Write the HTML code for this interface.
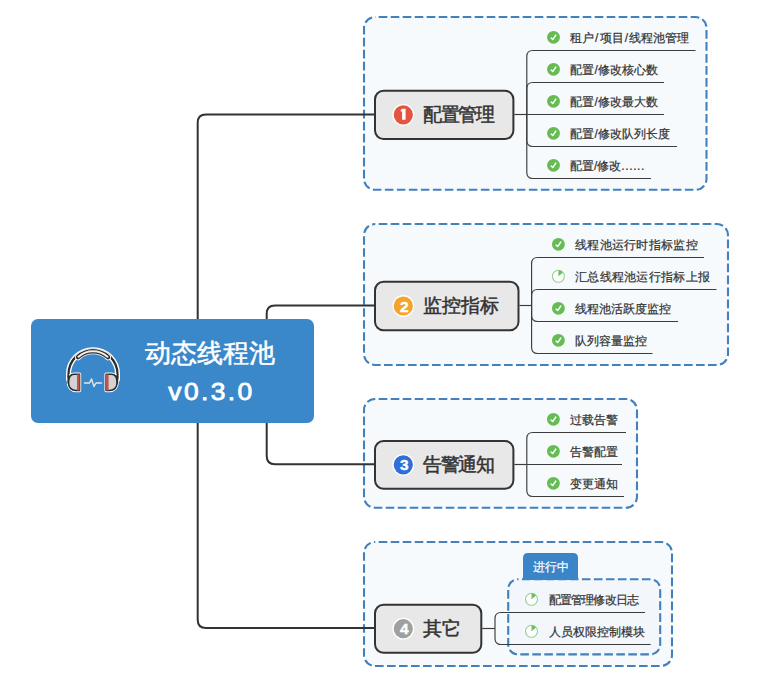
<!DOCTYPE html>
<html><head><meta charset="utf-8"><style>
html,body{margin:0;padding:0;background:#fff;width:780px;height:687px;overflow:hidden}
body{position:relative;font-family:"Liberation Sans",sans-serif}
svg{position:absolute;left:0;top:0}
.it{position:absolute;font-size:12px;line-height:20px;color:#333;white-space:nowrap;-webkit-text-stroke:0.22px #333}
.sl{margin:0 1.1px}
.sl1{margin:0 0.5px}
.dots{letter-spacing:0.6px}
.nd{position:absolute;font-size:19px;line-height:30px;color:#333;font-weight:normal;-webkit-text-stroke:0.5px #333;white-space:nowrap}
.num{position:absolute;width:20px;text-align:center;font-size:15.5px;line-height:21px;color:#fff;font-weight:bold;-webkit-text-stroke:0.4px #fff}
.ct{position:absolute;left:105px;width:209px;text-align:center;color:#fff;white-space:nowrap}
.lab{position:absolute;left:523px;top:553.5px;width:55px;text-align:center;color:#fff;font-size:12px;line-height:26px;-webkit-text-stroke:0.2px #fff}
</style></head><body>
<svg width="780" height="687" viewBox="0 0 780 687">
<rect x="364" y="17" width="342.5" height="172.8" rx="11" ry="11" fill="#f6fafd" stroke="#4281bc" stroke-width="2.1" stroke-dasharray="8.6 3.4" stroke-dashoffset="-3.7"/>
<rect x="364" y="224" width="364" height="141" rx="11" ry="11" fill="#f6fafd" stroke="#4281bc" stroke-width="2.1" stroke-dasharray="8.6 3.4" stroke-dashoffset="-3.7"/>
<rect x="364" y="399" width="273" height="108.69999999999999" rx="11" ry="11" fill="#f6fafd" stroke="#4281bc" stroke-width="2.1" stroke-dasharray="8.6 3.4" stroke-dashoffset="-3.7"/>
<rect x="364" y="542" width="308" height="124" rx="11" ry="11" fill="#f6fafd" stroke="#4281bc" stroke-width="2.1" stroke-dasharray="8.6 3.4" stroke-dashoffset="-3.7"/>
<path d="M374 114.6 H206 Q197.7 114.6 197.7 122.9 V619.7 Q197.7 628 206 628 H374" fill="none" stroke="#333" stroke-width="2"/>
<path d="M374 305.5 H275 Q266.7 305.5 266.7 313.8 V456 Q266.7 464.3 275 464.3 H374" fill="none" stroke="#333" stroke-width="2"/>
<rect x="508.2" y="579.2" width="152.00000000000006" height="75.19999999999993" rx="10" ry="10" fill="#f3f7fb" stroke="#4281bc" stroke-width="2.1" stroke-dasharray="8.6 3.4" stroke-dashoffset="-3.7"/>
<path d="M523 580 V558 Q523 553 528 553 H573 Q578 553 578 558 V580 Z" fill="#3a84c8"/>
<path d="M514.4 114.5 H526.8" fill="none" stroke="#3c3c3c" stroke-width="1.15"/>
<path d="M526.8 114.5 V56.5 Q526.8 50.5 532.8 50.5 H695.5" fill="none" stroke="#3c3c3c" stroke-width="1.15"/>
<circle cx="553.5" cy="37.3" r="6.4" fill="#66bb55"/><path d="M551.1 38.099999999999994 L552.8 39.599999999999994 L555.9 35.0" fill="none" stroke="#fff" stroke-width="1.4" stroke-linecap="round" stroke-linejoin="round"/>
<path d="M526.8 114.5 V88.5 Q526.8 82.5 532.8 82.5 H664" fill="none" stroke="#3c3c3c" stroke-width="1.15"/>
<circle cx="553.5" cy="69.3" r="6.4" fill="#66bb55"/><path d="M551.1 70.1 L552.8 71.6 L555.9 67.0" fill="none" stroke="#fff" stroke-width="1.4" stroke-linecap="round" stroke-linejoin="round"/>
<path d="M526.8 114.5 H664" fill="none" stroke="#3c3c3c" stroke-width="1.15"/>
<circle cx="553.5" cy="101.3" r="6.4" fill="#66bb55"/><path d="M551.1 102.1 L552.8 103.6 L555.9 99.0" fill="none" stroke="#fff" stroke-width="1.4" stroke-linecap="round" stroke-linejoin="round"/>
<path d="M526.8 114.5 V140.5 Q526.8 146.5 532.8 146.5 H677" fill="none" stroke="#3c3c3c" stroke-width="1.15"/>
<circle cx="553.5" cy="133.3" r="6.4" fill="#66bb55"/><path d="M551.1 134.10000000000002 L552.8 135.60000000000002 L555.9 131.0" fill="none" stroke="#fff" stroke-width="1.4" stroke-linecap="round" stroke-linejoin="round"/>
<path d="M526.8 114.5 V172.5 Q526.8 178.5 532.8 178.5 H651" fill="none" stroke="#3c3c3c" stroke-width="1.15"/>
<circle cx="553.5" cy="165.3" r="6.4" fill="#66bb55"/><path d="M551.1 166.10000000000002 L552.8 167.60000000000002 L555.9 163.0" fill="none" stroke="#fff" stroke-width="1.4" stroke-linecap="round" stroke-linejoin="round"/>
<path d="M519.5 305.5 H531.6" fill="none" stroke="#3c3c3c" stroke-width="1.15"/>
<path d="M531.6 305.5 V263.5 Q531.6 257.5 537.6 257.5 H704" fill="none" stroke="#3c3c3c" stroke-width="1.15"/>
<circle cx="558.4" cy="244.3" r="6.4" fill="#66bb55"/><path d="M556.0 245.10000000000002 L557.6999999999999 246.60000000000002 L560.8 242.0" fill="none" stroke="#fff" stroke-width="1.4" stroke-linecap="round" stroke-linejoin="round"/>
<path d="M531.6 305.5 V295.5 Q531.6 289.5 537.6 289.5 H716.5" fill="none" stroke="#3c3c3c" stroke-width="1.15"/>
<circle cx="558.4" cy="276.3" r="6" fill="#fff" stroke="#9bd092" stroke-width="1.1"/><path d="M558.4 276.3 V270.3 A6 6 0 0 1 563.00 272.44 Z" fill="#6cc05e"/>
<path d="M531.6 305.5 V315.5 Q531.6 321.5 537.6 321.5 H678" fill="none" stroke="#3c3c3c" stroke-width="1.15"/>
<circle cx="558.4" cy="308.3" r="6.4" fill="#66bb55"/><path d="M556.0 309.1 L557.6999999999999 310.6 L560.8 306.0" fill="none" stroke="#fff" stroke-width="1.4" stroke-linecap="round" stroke-linejoin="round"/>
<path d="M531.6 305.5 V347.5 Q531.6 353.5 537.6 353.5 H652.5" fill="none" stroke="#3c3c3c" stroke-width="1.15"/>
<circle cx="558.4" cy="340.3" r="6.4" fill="#66bb55"/><path d="M556.0 341.1 L557.6999999999999 342.6 L560.8 338.0" fill="none" stroke="#fff" stroke-width="1.4" stroke-linecap="round" stroke-linejoin="round"/>
<path d="M514.4 464.5 H526.8" fill="none" stroke="#3c3c3c" stroke-width="1.15"/>
<path d="M526.8 464.5 V438.5 Q526.8 432.5 532.8 432.5 H626" fill="none" stroke="#3c3c3c" stroke-width="1.15"/>
<circle cx="553.4" cy="419.3" r="6.4" fill="#66bb55"/><path d="M551.0 420.1 L552.6999999999999 421.6 L555.8 417.0" fill="none" stroke="#fff" stroke-width="1.4" stroke-linecap="round" stroke-linejoin="round"/>
<path d="M526.8 464.5 H622" fill="none" stroke="#3c3c3c" stroke-width="1.15"/>
<circle cx="553.4" cy="451.3" r="6.4" fill="#66bb55"/><path d="M551.0 452.1 L552.6999999999999 453.6 L555.8 449.0" fill="none" stroke="#fff" stroke-width="1.4" stroke-linecap="round" stroke-linejoin="round"/>
<path d="M526.8 464.5 V490.5 Q526.8 496.5 532.8 496.5 H624" fill="none" stroke="#3c3c3c" stroke-width="1.15"/>
<circle cx="553.4" cy="483.3" r="6.4" fill="#66bb55"/><path d="M551.0 484.1 L552.6999999999999 485.6 L555.8 481.0" fill="none" stroke="#fff" stroke-width="1.4" stroke-linecap="round" stroke-linejoin="round"/>
<path d="M482.3 628.5 H495" fill="none" stroke="#3c3c3c" stroke-width="1.15"/>
<path d="M495 628.5 V618.5 Q495 612.5 501 612.5 H645" fill="none" stroke="#3c3c3c" stroke-width="1.15"/>
<circle cx="531.5" cy="599.3" r="6" fill="#fff" stroke="#9bd092" stroke-width="1.1"/><path d="M531.5 599.3 V593.3 A6 6 0 0 1 536.10 595.44 Z" fill="#6cc05e"/>
<path d="M495 628.5 V638.5 Q495 644.5 501 644.5 H650.7" fill="none" stroke="#3c3c3c" stroke-width="1.15"/>
<circle cx="531.5" cy="631.3" r="6" fill="#fff" stroke="#9bd092" stroke-width="1.1"/><path d="M531.5 631.3 V625.3 A6 6 0 0 1 536.10 627.44 Z" fill="#6cc05e"/>
<rect x="375" y="90.7" width="138.39999999999998" height="48.3" rx="8.5" ry="8.5" fill="#e8e8e8" stroke="#333" stroke-width="2"/>
<circle cx="403.3" cy="114.85" r="10.9" fill="#fff"/><circle cx="403.3" cy="114.85" r="9.6" fill="#e2553f"/>
<path d="M402.1 119.85 V111.25 L400.8 111.85 V109.64999999999999 L402.6 108.85 H405.6 V119.85 Z" fill="#fff"/>
<rect x="375" y="281.7" width="143.5" height="48.60000000000002" rx="8.5" ry="8.5" fill="#e8e8e8" stroke="#333" stroke-width="2"/>
<circle cx="403.3" cy="306.0" r="10.9" fill="#fff"/><circle cx="403.3" cy="306.0" r="9.6" fill="#f2a52a"/>
<rect x="375" y="441" width="138.39999999999998" height="47.69999999999999" rx="8.5" ry="8.5" fill="#e8e8e8" stroke="#333" stroke-width="2"/>
<circle cx="403.3" cy="464.85" r="10.9" fill="#fff"/><circle cx="403.3" cy="464.85" r="9.6" fill="#316fd8"/>
<rect x="375" y="604.7" width="106.30000000000001" height="48.0" rx="8.5" ry="8.5" fill="#e8e8e8" stroke="#333" stroke-width="2"/>
<circle cx="403.3" cy="628.7" r="10.9" fill="#fff"/><circle cx="403.3" cy="628.7" r="9.6" fill="#a0a0a0"/>
<rect x="31" y="319" width="283" height="104" rx="7" ry="7" fill="#3a87c9"/>
<g stroke-linejoin="round" stroke-linecap="round" transform="translate(0,1.2)">
<path d="M68.5 378 V373 A24.5 24.5 0 0 1 117.5 373 V378" fill="none" stroke="#fff" stroke-width="5"/>
<path d="M68.5 378 V373 A24.5 24.5 0 0 1 117.5 373 V378" fill="none" stroke="#2b2b2b" stroke-width="2.2"/>
<path d="M78 356 A 22 22 0 0 1 108 356" fill="none" stroke="#fff" stroke-width="6"/>
<path d="M78 356 A 22 22 0 0 1 108 356" fill="none" stroke="#2b2b2b" stroke-width="4.4"/>
<path d="M78.5 355.6 A 21.5 21.5 0 0 1 107.5 355.6" fill="none" stroke="#f3eee6" stroke-width="2"/>
</g>
<g stroke-linejoin="round" stroke-linecap="round">
<path d="M79.5 374.3 H74 C70 374.3 68.5 378.5 68.5 382.8 C68.5 387.3 71.5 390.5 76 390.5 H79.5 Z" fill="#d3d3d3" stroke="#fff" stroke-width="3.4"/>
<path d="M106.1 374.3 H111.6 C115.6 374.3 117.1 378.5 117.1 382.8 C117.1 387.3 114.1 390.5 109.6 390.5 H106.1 Z" fill="#d3d3d3" stroke="#fff" stroke-width="3.4"/>
<path d="M68.5 383 V376" stroke="#2b2b2b" stroke-width="2" fill="none"/>
<path d="M117.1 383 V376" stroke="#2b2b2b" stroke-width="2" fill="none"/>
<path d="M79.5 374.3 H74 C70 374.3 68.5 378.5 68.5 382.8 C68.5 387.3 71.5 390.5 76 390.5 H79.5 Z" fill="#d3d3d3" stroke="#2b2b2b" stroke-width="1.6"/>
<rect x="77" y="374.3" width="2.6" height="16.2" fill="#bf5550"/>
<path d="M106.1 374.3 H111.6 C115.6 374.3 117.1 378.5 117.1 382.8 C117.1 387.3 114.1 390.5 109.6 390.5 H106.1 Z" fill="#d3d3d3" stroke="#2b2b2b" stroke-width="1.6"/>
<rect x="106" y="374.3" width="2.6" height="16.2" fill="#bf5550"/>
<path d="M84.5 383 H89.5 L91.5 379 L94 386.5 L96 383 H101.5" fill="none" stroke="#e8e8e8" stroke-width="1.4"/>
</g>
</svg>
<div class="it" style="left:570px;top:28.299999999999997px">租户<span class="sl">/</span>项目<span class="sl">/</span>线程池管理</div>
<div class="it" style="left:570px;top:60.3px">配置<span class="sl1">/</span>修改核心数</div>
<div class="it" style="left:570px;top:92.3px">配置<span class="sl1">/</span>修改最大数</div>
<div class="it" style="left:570px;top:124.30000000000001px">配置<span class="sl1">/</span>修改队列长度</div>
<div class="it" style="left:570px;top:156.3px">配置/修改<span class="dots">......</span></div>
<div class="it" style="left:575px;top:235.3px;letter-spacing:0.28px">线程池运行时指标监控</div>
<div class="it" style="left:575px;top:267.3px;letter-spacing:0.3px">汇总线程池运行指标上报</div>
<div class="it" style="left:575px;top:299.3px">线程池活跃度监控</div>
<div class="it" style="left:575px;top:331.3px">队列容量监控</div>
<div class="it" style="left:570px;top:410.3px">过载告警</div>
<div class="it" style="left:570px;top:442.3px">告警配置</div>
<div class="it" style="left:570px;top:474.3px">变更通知</div>
<div class="it" style="left:548.5px;top:590.3px;letter-spacing:-0.8px">配置管理修改日志</div>
<div class="it" style="left:548.5px;top:622.3px">人员权限控制模块</div>
<div class="nd" style="left:423px;top:99.85px;letter-spacing:-1.5px">配置管理</div>
<div class="num" style="left:394.3px;top:295.6px">2</div>
<div class="nd" style="left:423px;top:291.0px">监控指标</div>
<div class="num" style="left:394.3px;top:454.45000000000005px">3</div>
<div class="nd" style="left:423px;top:449.85px;letter-spacing:-1.5px">告警通知</div>
<div class="num" style="left:394.3px;top:618.3000000000001px">4</div>
<div class="nd" style="left:423px;top:613.7px">其它</div>
<div class="ct" style="top:334px;font-size:26px;line-height:38px;-webkit-text-stroke:0.5px #fff">动态线程池</div>
<div class="ct" style="left:107px;top:374px;font-size:24px;line-height:36px;letter-spacing:2.2px;-webkit-text-stroke:0.8px #fff;transform:scaleX(1.1)">v0.3.0</div>
<div class="lab">进行中</div>
</body></html>
